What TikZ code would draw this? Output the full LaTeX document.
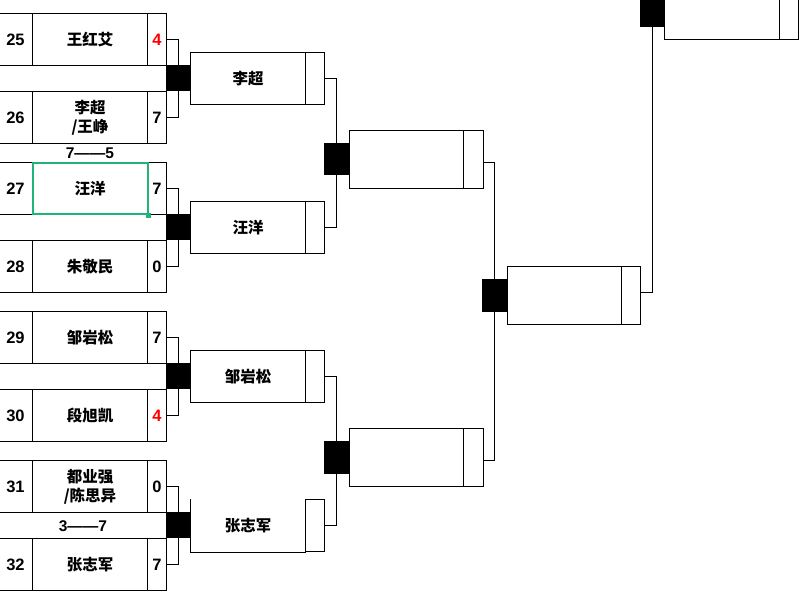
\documentclass[tikz,border=0pt]{standalone}
\usepackage{fontspec}
\setmainfont{Liberation Sans}
\newfontfamily\cjk{Noto Sans CJK SC}
\usetikzlibrary{calc}

\definecolor{selgreen}{RGB}{33,179,120}
\definecolor{losered}{RGB}{255,0,0}

\tikzset{
  cell/.style={draw, line width=1pt, inner sep=0pt, anchor=north west},
  seedcell/.style={cell, minimum width=34pt, minimum height=52pt, font=\bfseries\fontsize{16.5}{16.5}\selectfont},
  namecell/.style={cell, minimum width=115pt, minimum height=52pt, align=center, font=\cjk\bfseries\fontsize{15.5}{19}\selectfont},
  scorecell/.style={cell, minimum width=19pt, minimum height=52pt, font=\bfseries\fontsize{16.5}{16.5}\selectfont},
  joint/.style={fill=black, inner sep=0pt, anchor=north west},
  link/.style={line width=1pt},
  tally/.style={font=\bfseries\fontsize{15.5}{15.5}\selectfont, inner sep=0pt}
}

\begin{document}
\begin{tikzpicture}[x=1pt,y=-1pt]
    \useasboundingbox (0,0) rectangle (800,602);

    % elso kor: kiemeles, nev, pontszam
    \foreach \s/\n/\y/\p/\c in {25/{王红艾}/13/4/losered, 26/{李超\\/王峥}/91/7/black,
        27/{汪洋}/162/7/black, 28/{朱敬民}/240/0/black,
        29/{邹岩松}/311/7/black, 30/{段旭凯}/389/4/losered,
        31/{都业强\\/陈思异}/460/0/black, 32/{张志军}/538/7/black}{
      \node[seedcell] (seed\s) at (-2,\y) {\s};
      \node[namecell] (name\s) at (32,\y) {\n};
      \node[scorecell, text=\c] (score\s) at (147,\y) {\p};
    }

    % eredmenyek a sorok kozott
    \node[tally] (tallyA) at (90,153) {7——5};
    \node[tally] (tallyB) at (83,526) {3——7};

    % kijelolt cella
    \draw[selgreen, line width=2pt] ([shift={(1pt,-1pt)}]name27.north west) rectangle ([shift={(0pt,1pt)}]name27.south east);
    \node[fill=selgreen, inner sep=0pt, minimum size=5pt] (handle) at (name27.south east) {};

    % masodik kor
    \node[cell, minimum width=115pt, minimum height=52pt, font=\cjk\bfseries\fontsize{15.5}{19}\selectfont] (r2aN) at (190,52) {李超};
    \node[cell, minimum width=19pt, minimum height=52pt] (r2aS) at (305,52) {};
    \node[cell, minimum width=115pt, minimum height=52pt, font=\cjk\bfseries\fontsize{15.5}{19}\selectfont] (r2bN) at (190,201) {汪洋};
    \node[cell, minimum width=19pt, minimum height=52pt] (r2bS) at (305,201) {};
    \node[cell, minimum width=115pt, minimum height=52pt, font=\cjk\bfseries\fontsize{15.5}{19}\selectfont] (r2cN) at (190,350) {邹岩松};
    \node[cell, minimum width=19pt, minimum height=52pt] (r2cS) at (305,350) {};
    \node[cell, draw=none, minimum width=115pt, minimum height=52pt, font=\cjk\bfseries\fontsize{15.5}{19}\selectfont] (r2dN) at (190,499) {张志军};
    \draw[link] (r2dN.north west) -- (r2dN.south west) -- (r2dN.south east);
    \node[cell, minimum width=19pt, minimum height=52pt] (r2dS) at (305,499) {};

    % harmadik kor
    \node[cell, minimum width=114pt, minimum height=58pt] (r3aN) at (349,130) {};
    \node[cell, minimum width=20pt, minimum height=58pt] (r3aS) at (463,130) {};
    \node[cell, minimum width=114pt, minimum height=58pt] (r3bN) at (349,428) {};
    \node[cell, minimum width=20pt, minimum height=58pt] (r3bS) at (463,428) {};

    % negyedik kor es donto
    \node[cell, minimum width=114pt, minimum height=58pt] (r4N) at (507,266) {};
    \node[cell, minimum width=19pt, minimum height=58pt] (r4S) at (621,266) {};
    \node[cell, minimum width=115pt, minimum height=58pt] (r5N) at (664,-19) {};
    \node[cell, minimum width=19pt, minimum height=58pt] (r5S) at (779,-19) {};

    % fekete csomopontok
    \node[joint, minimum width=24pt, minimum height=26pt] (j1) at (166,65) {};
    \node[joint, minimum width=24pt, minimum height=26pt] (j2) at (166,214) {};
    \node[joint, minimum width=24pt, minimum height=26pt] (j3) at (166,363) {};
    \node[joint, minimum width=24pt, minimum height=26pt] (j4) at (166,512) {};
    \node[joint, minimum width=25pt, minimum height=32pt] (j5) at (324,143) {};
    \node[joint, minimum width=25pt, minimum height=33pt] (j6) at (324,441) {};
    \node[joint, minimum width=25pt, minimum height=33pt] (j7) at (482,279) {};
    \node[joint, minimum width=24pt, minimum height=33pt] (j8) at (640,-6) {};

    % osszekoto vonalak
    \foreach \a/\b/\j in {25/26/1, 27/28/2, 29/30/3, 31/32/4}{
      \draw[link] (score\a.east) -| (j\j.north);
      \draw[link] (score\b.east) -| (j\j.south);
    }
    \draw[link] (r2aS.east) -| (j5.north);
    \draw[link] (r2bS.east) -| (j5.south);
    \draw[link] (r2cS.east) -| (j6.north);
    \draw[link] (r2dS.east) -| (j6.south);
    \draw[link] ([yshift=-3pt]r3aS.east) -| (j7.north);
    \draw[link] ([yshift=-3pt]r3bS.east) -| (j7.south);
    \draw[link] ([yshift=3pt]r4S.east) -| (j8.south);
\end{tikzpicture}
\end{document}
